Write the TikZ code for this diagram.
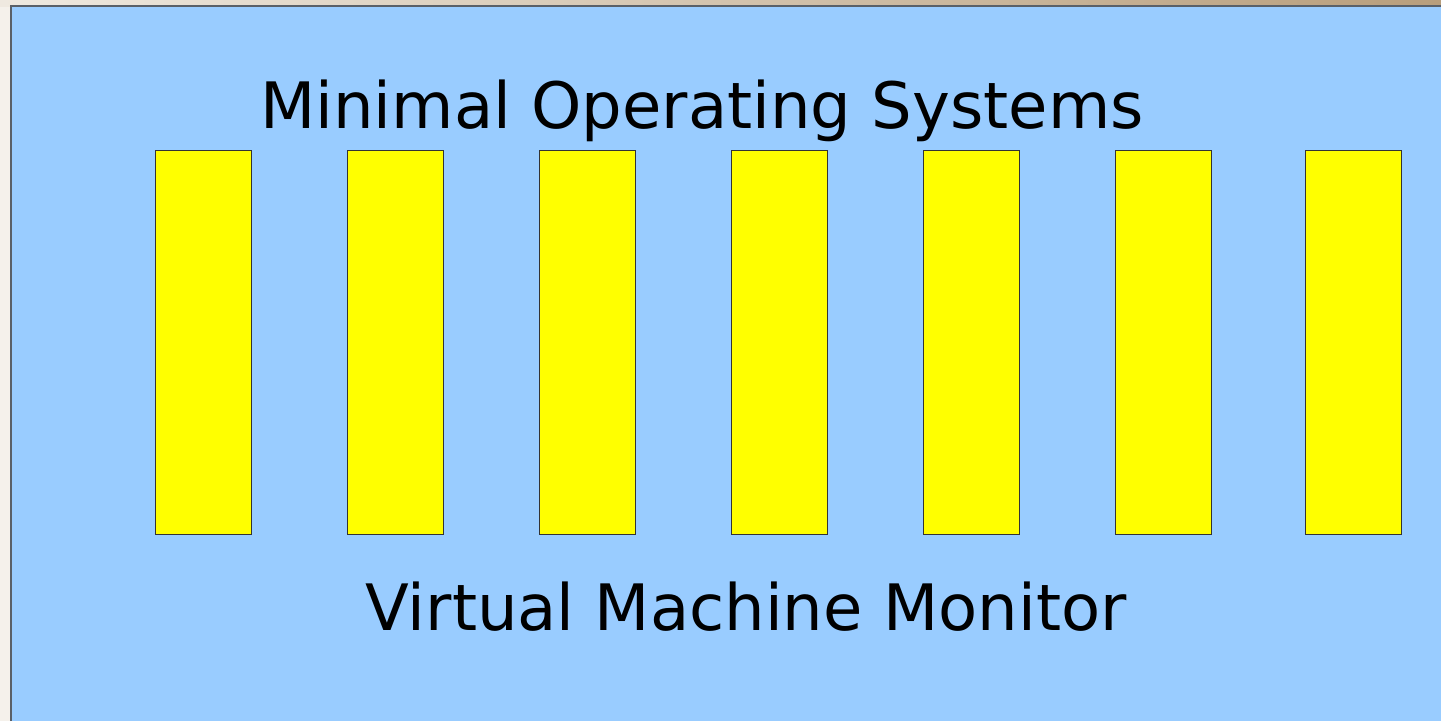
\documentclass[tikz,border=0pt]{standalone}
\usepackage{fontspec}
\setmainfont{DejaVu Sans}
\definecolor{panelblue}{HTML}{99CCFF}
\definecolor{osyellow}{HTML}{FFFF00}
\definecolor{frame}{HTML}{5A6068}
\definecolor{pagebg}{HTML}{F5F1EB}
\definecolor{tanlight}{HTML}{EFE9E0}
\definecolor{tandark}{HTML}{B89E7C}
\tikzset{
  osbox/.style={draw=black!80, line width=0.8pt, fill=osyellow, minimum width=96pt, minimum height=384pt, inner sep=0pt, anchor=north west},
  heading/.style={font=\fontsize{64}{72}\selectfont, inner sep=0pt, anchor=base}
}
\begin{document}
\begin{tikzpicture}[x=1pt,y=-1pt]
  \useasboundingbox (0,0) rectangle (1441,721);
  % page background and top strip
  \fill[pagebg] (0,0) rectangle (1441,721);
  \shade[left color=tanlight, right color=tandark] (0,0) rectangle (1441,6);
  % blue panel with dark frame on the top and left edges
  \fill[panelblue] (11,6) rectangle (1441,721);
  \draw[frame, line width=2.4pt] (11,721) -- (11,6) -- (1441,6);
  % stack of minimal operating systems
  \node[osbox] (os1) at (155,150) {};
  \node[osbox] (os2) at (347,150) {};
  \node[osbox] (os3) at (539,150) {};
  \node[osbox] (os4) at (731,150) {};
  \node[osbox] (os5) at (923,150) {};
  \node[osbox] (os6) at (1115,150) {};
  \node[osbox] (os7) at (1305,150) {};
  % labels
  \node[heading] (top) at (702,128) {Minimal Operating Systems};
  \node[heading] (vmm) at (746,630) {Virtual Machine Monitor};
\end{tikzpicture}
\end{document}
